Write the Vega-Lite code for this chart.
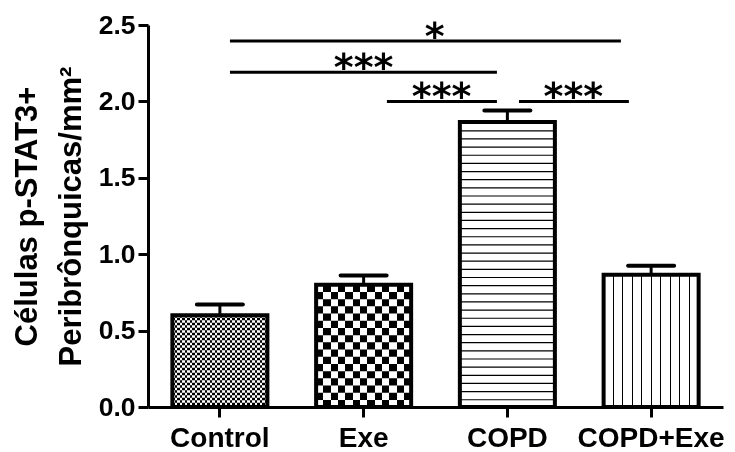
{
  "$schema": "https://vega.github.io/schema/vega-lite/v6.json",
  "width": 575,
  "height": 382,
  "autosize": {"type": "none"},
  "padding": {"left": 148, "top": 25, "right": 12, "bottom": 45},
  "background": "white",
  "config": {"view": {"stroke": null}, "font": "Liberation Sans"},
  "datasets": {
    "bars": [
      {"group": "Control", "mean": 0.6, "upper": 0.67},
      {"group": "Exe", "mean": 0.8, "upper": 0.86},
      {"group": "COPD", "mean": 1.865, "upper": 1.94},
      {"group": "COPD+Exe", "mean": 0.865, "upper": 0.925}
    ],
    "comparisons": [
      {"from": "Control", "to": "COPD+Exe", "level": 2.395, "stars": "*"},
      {"from": "Control", "to": "COPD", "level": 2.19, "stars": "***"},
      {"from": "Exe", "to": "COPD", "level": 2.0, "stars": "***"},
      {"from": "COPD", "to": "COPD+Exe", "level": 2.0, "stars": "***"}
    ]
  },
  "data": {"name": "bars"},
  "encoding": {
    "x": {
      "field": "group",
      "type": "nominal",
      "scale": {"domain": ["Control", "Exe", "COPD", "COPD+Exe"], "paddingInner": 0.339, "paddingOuter": 0.1695},
      "axis": {
        "title": null,
        "labelAngle": 0,
        "labelFontSize": 28,
        "labelFontWeight": "bold",
        "labelColor": "#000",
        "labelPadding": 7,
        "domainColor": "#000",
        "domainWidth": 3,
        "tickColor": "#000",
        "tickWidth": 3,
        "tickSize": 10,
        "zindex": 1
      }
    },
    "y": {
      "field": "mean",
      "type": "quantitative",
      "scale": {"domain": [0, 2.5], "nice": false},
      "axis": {
        "title": ["Células p-STAT3+", "Peribrônquicas/mm²"],
        "values": [0, 0.5, 1, 1.5, 2, 2.5],
        "format": ".1f",
        "grid": false,
        "domainColor": "#000",
        "domainWidth": 3,
        "tickColor": "#000",
        "tickWidth": 3,
        "tickSize": 10,
        "labelFontSize": 26.5,
        "labelFontWeight": "bold",
        "labelColor": "#000",
        "labelPadding": 3,
        "titleFontSize": 31,
        "titleFontWeight": "bold",
        "titleColor": "#000",
        "titlePadding": 11,
        "titleLineHeight": 44,
        "zindex": 1
      }
    }
  },
  "layer": [
    {
      "transform": [{"filter": "datum.group === 'Control'"}],
      "mark": {
        "type": "bar",
        "fill": {
          "gradient": "linear", "x1": 0, "y1": 0, "x2": 1, "y2": 0,
          "stops": [
            {"offset": 0.0263, "color": "#000"}, {"offset": 0.0263, "color": "#fff"},
            {"offset": 0.0526, "color": "#fff"}, {"offset": 0.0526, "color": "#000"},
            {"offset": 0.0789, "color": "#000"}, {"offset": 0.0789, "color": "#fff"},
            {"offset": 0.1053, "color": "#fff"}, {"offset": 0.1053, "color": "#000"},
            {"offset": 0.1316, "color": "#000"}, {"offset": 0.1316, "color": "#fff"},
            {"offset": 0.1579, "color": "#fff"}, {"offset": 0.1579, "color": "#000"},
            {"offset": 0.1842, "color": "#000"}, {"offset": 0.1842, "color": "#fff"},
            {"offset": 0.2105, "color": "#fff"}, {"offset": 0.2105, "color": "#000"},
            {"offset": 0.2368, "color": "#000"}, {"offset": 0.2368, "color": "#fff"},
            {"offset": 0.2632, "color": "#fff"}, {"offset": 0.2632, "color": "#000"},
            {"offset": 0.2895, "color": "#000"}, {"offset": 0.2895, "color": "#fff"},
            {"offset": 0.3158, "color": "#fff"}, {"offset": 0.3158, "color": "#000"},
            {"offset": 0.3421, "color": "#000"}, {"offset": 0.3421, "color": "#fff"},
            {"offset": 0.3684, "color": "#fff"}, {"offset": 0.3684, "color": "#000"},
            {"offset": 0.3947, "color": "#000"}, {"offset": 0.3947, "color": "#fff"},
            {"offset": 0.4211, "color": "#fff"}, {"offset": 0.4211, "color": "#000"},
            {"offset": 0.4474, "color": "#000"}, {"offset": 0.4474, "color": "#fff"},
            {"offset": 0.4737, "color": "#fff"}, {"offset": 0.4737, "color": "#000"},
            {"offset": 0.5, "color": "#000"}, {"offset": 0.5, "color": "#fff"},
            {"offset": 0.5263, "color": "#fff"}, {"offset": 0.5263, "color": "#000"},
            {"offset": 0.5526, "color": "#000"}, {"offset": 0.5526, "color": "#fff"},
            {"offset": 0.5789, "color": "#fff"}, {"offset": 0.5789, "color": "#000"},
            {"offset": 0.6053, "color": "#000"}, {"offset": 0.6053, "color": "#fff"},
            {"offset": 0.6316, "color": "#fff"}, {"offset": 0.6316, "color": "#000"},
            {"offset": 0.6579, "color": "#000"}, {"offset": 0.6579, "color": "#fff"},
            {"offset": 0.6842, "color": "#fff"}, {"offset": 0.6842, "color": "#000"},
            {"offset": 0.7105, "color": "#000"}, {"offset": 0.7105, "color": "#fff"},
            {"offset": 0.7368, "color": "#fff"}, {"offset": 0.7368, "color": "#000"},
            {"offset": 0.7632, "color": "#000"}, {"offset": 0.7632, "color": "#fff"},
            {"offset": 0.7895, "color": "#fff"}, {"offset": 0.7895, "color": "#000"},
            {"offset": 0.8158, "color": "#000"}, {"offset": 0.8158, "color": "#fff"},
            {"offset": 0.8421, "color": "#fff"}, {"offset": 0.8421, "color": "#000"},
            {"offset": 0.8684, "color": "#000"}, {"offset": 0.8684, "color": "#fff"},
            {"offset": 0.8947, "color": "#fff"}, {"offset": 0.8947, "color": "#000"},
            {"offset": 0.9211, "color": "#000"}, {"offset": 0.9211, "color": "#fff"},
            {"offset": 0.9474, "color": "#fff"}, {"offset": 0.9474, "color": "#000"},
            {"offset": 0.9737, "color": "#000"}, {"offset": 0.9737, "color": "#fff"}
          ]
        }
      }
    },
    {
      "transform": [{"filter": "datum.group === 'Control'"}],
      "mark": {"type": "rule", "stroke": "#fff", "strokeWidth": 94, "strokeDash": [2.5, 2.5], "blend": "difference"},
      "encoding": {"y2": {"datum": 0}}
    },
    {
      "transform": [{"filter": "datum.group === 'Exe'"}],
      "mark": {
        "type": "bar",
        "fill": {
          "gradient": "linear", "x1": 0, "y1": 0, "x2": 1, "y2": 0,
          "stops": [
            {"offset": 0.0769, "color": "#000"}, {"offset": 0.0769, "color": "#fff"},
            {"offset": 0.1538, "color": "#fff"}, {"offset": 0.1538, "color": "#000"},
            {"offset": 0.2308, "color": "#000"}, {"offset": 0.2308, "color": "#fff"},
            {"offset": 0.3077, "color": "#fff"}, {"offset": 0.3077, "color": "#000"},
            {"offset": 0.3846, "color": "#000"}, {"offset": 0.3846, "color": "#fff"},
            {"offset": 0.4615, "color": "#fff"}, {"offset": 0.4615, "color": "#000"},
            {"offset": 0.5385, "color": "#000"}, {"offset": 0.5385, "color": "#fff"},
            {"offset": 0.6154, "color": "#fff"}, {"offset": 0.6154, "color": "#000"},
            {"offset": 0.6923, "color": "#000"}, {"offset": 0.6923, "color": "#fff"},
            {"offset": 0.7692, "color": "#fff"}, {"offset": 0.7692, "color": "#000"},
            {"offset": 0.8462, "color": "#000"}, {"offset": 0.8462, "color": "#fff"},
            {"offset": 0.9231, "color": "#fff"}, {"offset": 0.9231, "color": "#000"}
          ]
        }
      }
    },
    {
      "transform": [{"filter": "datum.group === 'Exe'"}],
      "mark": {"type": "rule", "stroke": "#fff", "strokeWidth": 94, "strokeDash": [7.2, 7.2], "blend": "difference"},
      "encoding": {"y2": {"datum": 0}}
    },
    {
      "transform": [{"filter": "datum.group === 'COPD'"}],
      "mark": {"type": "bar", "fill": "#fff"}
    },
    {
      "transform": [{"filter": "datum.group === 'COPD'"}],
      "mark": {"type": "rule", "stroke": "#000", "strokeWidth": 94, "strokeDash": [1.2, 6.95]},
      "encoding": {"y2": {"datum": 0}}
    },
    {
      "transform": [{"filter": "datum.group === 'COPD+Exe'"}],
      "mark": {
        "type": "bar",
        "fill": {
          "gradient": "linear", "x1": 0, "y1": 0, "x2": 1, "y2": 0,
          "stops": [
            {"offset": 0.094, "color": "#fff"}, {"offset": 0.094, "color": "#000"}, {"offset": 0.106, "color": "#000"}, {"offset": 0.106, "color": "#fff"},
            {"offset": 0.194, "color": "#fff"}, {"offset": 0.194, "color": "#000"}, {"offset": 0.206, "color": "#000"}, {"offset": 0.206, "color": "#fff"},
            {"offset": 0.294, "color": "#fff"}, {"offset": 0.294, "color": "#000"}, {"offset": 0.306, "color": "#000"}, {"offset": 0.306, "color": "#fff"},
            {"offset": 0.394, "color": "#fff"}, {"offset": 0.394, "color": "#000"}, {"offset": 0.406, "color": "#000"}, {"offset": 0.406, "color": "#fff"},
            {"offset": 0.494, "color": "#fff"}, {"offset": 0.494, "color": "#000"}, {"offset": 0.506, "color": "#000"}, {"offset": 0.506, "color": "#fff"},
            {"offset": 0.594, "color": "#fff"}, {"offset": 0.594, "color": "#000"}, {"offset": 0.606, "color": "#000"}, {"offset": 0.606, "color": "#fff"},
            {"offset": 0.694, "color": "#fff"}, {"offset": 0.694, "color": "#000"}, {"offset": 0.706, "color": "#000"}, {"offset": 0.706, "color": "#fff"},
            {"offset": 0.794, "color": "#fff"}, {"offset": 0.794, "color": "#000"}, {"offset": 0.806, "color": "#000"}, {"offset": 0.806, "color": "#fff"},
            {"offset": 0.894, "color": "#fff"}, {"offset": 0.894, "color": "#000"}, {"offset": 0.906, "color": "#000"}, {"offset": 0.906, "color": "#fff"}
          ]
        }
      }
    },
    {
      "mark": {"type": "bar", "fillOpacity": 0, "stroke": "#000", "strokeWidth": 4}
    },
    {
      "mark": {"type": "rule", "stroke": "#000", "strokeWidth": 3},
      "encoding": {"y2": {"field": "upper"}}
    },
    {
      "mark": {"type": "tick", "color": "#000", "opacity": 1, "size": 50, "thickness": 4, "cornerRadius": 2},
      "encoding": {"y": {"field": "upper", "type": "quantitative"}}
    },
    {
      "data": {"name": "comparisons"},
      "transform": [{"filter": "datum.from === 'Control' && datum.to === 'COPD+Exe'"}],
      "layer": [
        {
          "mark": {"type": "rule", "stroke": "#000", "strokeWidth": 3},
          "encoding": {
            "x": {"field": "from", "type": "nominal", "bandPosition": 0.606},
            "x2": {"field": "to", "bandPosition": 0.182},
            "y": {"field": "level", "type": "quantitative"}
          }
        },
        {
          "mark": {"type": "text", "font": "DejaVu Sans", "fontWeight": "bold", "fontSize": 38, "dy": -3, "color": "#000"},
          "encoding": {
            "x": {"datum": "Exe", "type": "nominal", "bandPosition": 1.247},
            "y": {"field": "level", "type": "quantitative"},
            "text": {"field": "stars"}
          }
        }
      ]
    },
    {
      "data": {"name": "comparisons"},
      "transform": [{"filter": "datum.from === 'Control' && datum.to === 'COPD'"}],
      "layer": [
        {
          "mark": {"type": "rule", "stroke": "#000", "strokeWidth": 3},
          "encoding": {
            "x": {"field": "from", "type": "nominal", "bandPosition": 0.606},
            "x2": {"field": "to", "bandPosition": 0.39},
            "y": {"field": "level", "type": "quantitative"}
          }
        },
        {
          "mark": {"type": "text", "font": "DejaVu Sans", "fontWeight": "bold", "fontSize": 38, "dy": -3, "color": "#000"},
          "encoding": {
            "x": {"datum": "Exe", "type": "nominal", "bandPosition": 0.5},
            "y": {"field": "level", "type": "quantitative"},
            "text": {"field": "stars"}
          }
        }
      ]
    },
    {
      "data": {"name": "comparisons"},
      "transform": [{"filter": "datum.from === 'Exe' && datum.to === 'COPD'"}],
      "layer": [
        {
          "mark": {"type": "rule", "stroke": "#000", "strokeWidth": 3},
          "encoding": {
            "x": {"field": "from", "type": "nominal", "bandPosition": 0.745},
            "x2": {"field": "to", "bandPosition": 0.39},
            "y": {"field": "level", "type": "quantitative"}
          }
        },
        {
          "mark": {"type": "text", "font": "DejaVu Sans", "fontWeight": "bold", "fontSize": 38, "dy": -3, "color": "#000"},
          "encoding": {
            "x": {"datum": "Exe", "type": "nominal", "bandPosition": 1.321},
            "y": {"field": "level", "type": "quantitative"},
            "text": {"field": "stars"}
          }
        }
      ]
    },
    {
      "data": {"name": "comparisons"},
      "transform": [{"filter": "datum.from === 'COPD' && datum.to === 'COPD+Exe'"}],
      "layer": [
        {
          "mark": {"type": "rule", "stroke": "#000", "strokeWidth": 3},
          "encoding": {
            "x": {"field": "from", "type": "nominal", "bandPosition": 0.622},
            "x2": {"field": "to", "bandPosition": 0.266},
            "y": {"field": "level", "type": "quantitative"}
          }
        },
        {
          "mark": {"type": "text", "font": "DejaVu Sans", "fontWeight": "bold", "fontSize": 38, "dy": -3, "color": "#000"},
          "encoding": {
            "x": {"datum": "COPD", "type": "nominal", "bandPosition": 1.194},
            "y": {"field": "level", "type": "quantitative"},
            "text": {"field": "stars"}
          }
        }
      ]
    }
  ]
}
